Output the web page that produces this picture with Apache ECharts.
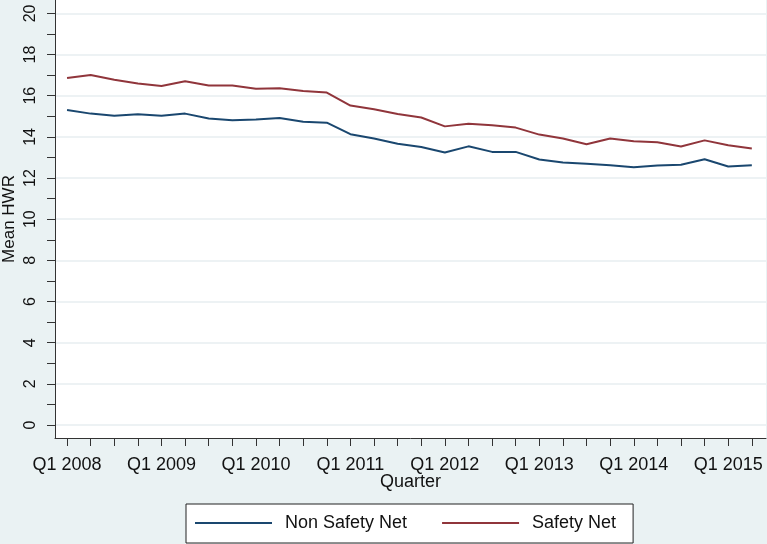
<!DOCTYPE html>
<html>
<head>
<meta charset="utf-8">
<script src="https://cdn.jsdelivr.net/npm/echarts@6/dist/echarts.min.js"></script>
<style>
html,body{margin:0;padding:0;background:#eaf2f3;}
#chart{width:767px;height:544px;}
</style>
</head>
<body>
<div id="chart"></div>
<script>
var quarters = ["Q1 2008","Q2 2008","Q3 2008","Q4 2008","Q1 2009","Q2 2009","Q3 2009","Q4 2009",
  "Q1 2010","Q2 2010","Q3 2010","Q4 2010","Q1 2011","Q2 2011","Q3 2011","Q4 2011",
  "Q1 2012","Q2 2012","Q3 2012","Q4 2012","Q1 2013","Q2 2013","Q3 2013","Q4 2013",
  "Q1 2014","Q2 2014","Q3 2014","Q4 2014","Q1 2015","Q2 2015"];
var nonSafetyNet = [15.31,15.13,15.03,15.10,15.03,15.13,14.89,14.81,
  14.85,14.92,14.74,14.69,14.13,13.92,13.67,13.51,
  13.24,13.54,13.27,13.27,12.90,12.75,12.69,12.62,
  12.52,12.61,12.65,12.91,12.56,12.62];
var safetyNet = [16.86,17.01,16.78,16.59,16.47,16.70,16.50,16.50,
  16.34,16.36,16.23,16.15,15.52,15.34,15.11,14.94,
  14.51,14.64,14.56,14.45,14.11,13.92,13.64,13.92,
  13.79,13.74,13.53,13.83,13.59,13.43];
var xTickLabels = ["Q1 2008","Q1 2009","Q1 2010","Q1 2011","Q1 2012","Q1 2013","Q1 2014","Q1 2015"];
var yTickLabels = [0,2,4,6,8,10,12,14,16,18,20];
var yMinorTicks = [0,1,2,3,4,5,6,7,8,9,10,11,12,13,14,15,16,17,18,19,20];

var labelIdx = xTickLabels.map(function(l){ return quarters.indexOf(l); });
var tickIdx = quarters.map(function(q, i){ return i; });
function pairs(arr){ return arr.map(function(v, i){ return [i, v]; }); }

var FONT = "Liberation Sans";
var chart = echarts.init(document.getElementById('chart'), null, {renderer:'canvas'});
chart.setOption({
  backgroundColor: '#eaf2f3',
  animation: false,
  textStyle: {fontFamily: FONT},
  grid: {left: 55, top: 0, right: 1, bottom: 106, show: true, backgroundColor: '#ffffff', borderWidth: 0, outerBoundsMode: 'none'},
  legend: {
    left: 186, top: 504,
    backgroundColor: '#ffffff', borderColor: '#222', borderWidth: 1,
    padding: [10, 17, 11, 9],
    icon: 'rect',
    itemWidth: 77, itemHeight: 2, itemGap: 35,
    textStyle: {fontFamily: FONT, fontSize: 18, color: '#111', padding: [0,0,0,8]},
    data: ['Non Safety Net', 'Safety Net']
  },
  xAxis: {
    type: 'value', min: -0.51, max: 29.6,
    name: 'Quarter', nameLocation: 'middle', nameGap: 35, nameMoveOverlap: false,
    nameTextStyle: {fontFamily: FONT, fontSize: 18, color: '#111'},
    axisLine: {show: true, onZero: false, lineStyle: {color: '#333', width: 1}},
    axisTick: {show: true, length: 8, customValues: tickIdx, lineStyle: {color: '#333', width: 1}},
    axisLabel: {customValues: labelIdx, margin: 18, fontFamily: FONT, fontSize: 18, color: '#111',
      formatter: function(v){ return quarters[Math.round(v)]; }},
    splitLine: {show: false}
  },
  yAxis: [{
    type: 'value', min: -0.63, max: 20.65, position: 'left',
    name: 'Mean HWR', nameLocation: 'middle', nameGap: 37, nameRotate: 90, nameMoveOverlap: false,
    nameTextStyle: {fontFamily: FONT, fontSize: 17, color: '#111'},
    axisLine: {show: true, onZero: false, lineStyle: {color: '#333', width: 1}},
    axisTick: {show: true, length: 8, customValues: yMinorTicks, lineStyle: {color: '#333', width: 1}},
    axisLabel: {customValues: yTickLabels, rotate: 90, margin: 16, fontFamily: FONT, fontSize: 16, color: '#111'},
    splitLine: {show: false}
  }, {
    type: 'value', min: -0.63, max: 20.65, position: 'left',
    axisLine: {show: false},
    axisTick: {show: false, customValues: yTickLabels},
    axisLabel: {show: false},
    splitLine: {show: true, lineStyle: {color: '#e7eef1', width: 1.5}}
  }],
  series: [{
    name: 'Non Safety Net', type: 'line', data: pairs(nonSafetyNet),
    symbol: 'none', lineStyle: {color: '#1a476f', width: 2}, itemStyle: {color: '#1a476f'}, z: 3
  }, {
    name: 'Safety Net', type: 'line', data: pairs(safetyNet),
    symbol: 'none', lineStyle: {color: '#90353b', width: 2}, itemStyle: {color: '#90353b'}, z: 3
  }]
});
</script>
</body>
</html>
